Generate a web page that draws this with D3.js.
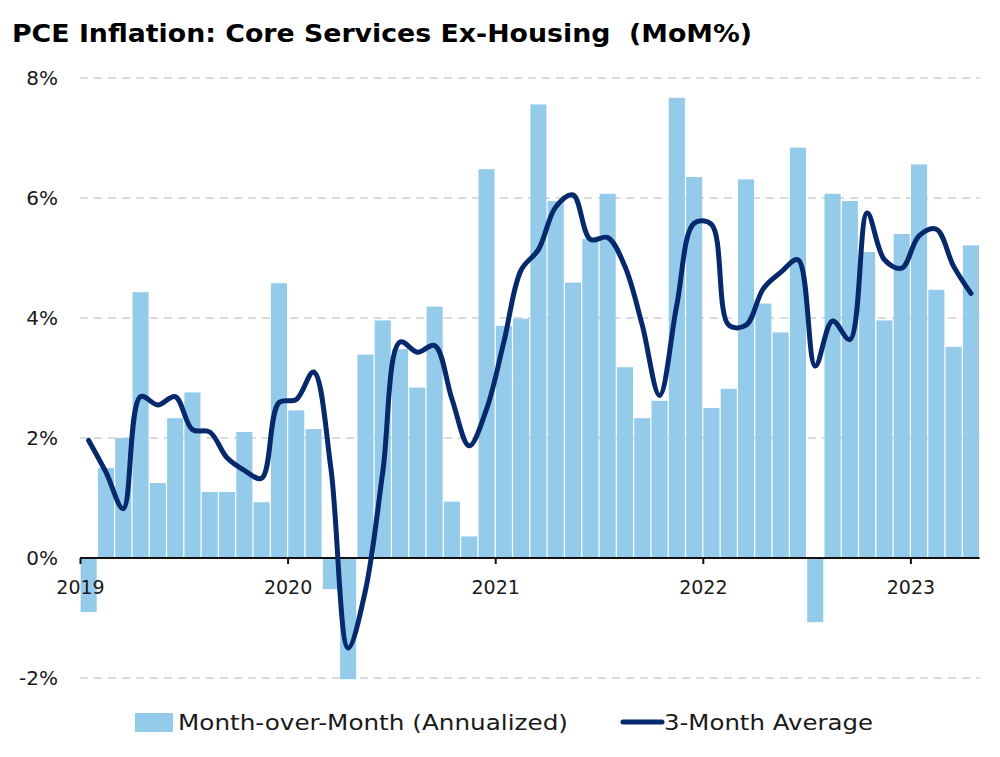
<!DOCTYPE html>
<html>
<head>
<meta charset="utf-8">
<script src="https://cdn.jsdelivr.net/npm/d3@7"></script>
<style>
  body { margin: 0; background: #fff; }
  text { font-family: "DejaVu Sans", sans-serif; fill: #1a1a1a; }
</style>
</head>
<body>
<svg id="chart"></svg>
<script>
var svgWidth = 1000;
var svgHeight = 757;

// data, Jan 2019 .. Apr 2023
var years = ["2019", "2020", "2021", "2022", "2023"];
var momValues = [
  -0.9, 1.5, 2.0, 4.43, 1.25, 2.33, 2.76, 1.1, 1.1, 2.1, 0.93, 4.58,
  2.46, 2.15, -0.52, -2.02, 3.39, 3.96, 3.48, 2.84, 4.19, 0.94, 0.36, 6.48,
  3.87, 3.99, 7.56, 5.95, 4.59, 5.32, 6.07, 3.18, 2.33, 2.62, 7.67, 6.35,
  2.5, 2.82, 6.31, 4.24, 3.76, 6.84, -1.07, 6.07, 5.95, 5.1, 3.96, 5.4,
  6.56, 4.47, 3.52, 5.21
];
var avgValues = [
  1.96, 1.43, 0.82, 2.69, 2.55, 2.69, 2.14, 2.1, 1.67, 1.46, 1.33, 2.59,
  2.64, 3.1, 1.5, -1.5, -0.54, 1.43, 3.6, 3.43, 3.54, 2.65, 1.87, 2.48,
  3.6, 4.8, 5.14, 5.85, 6.05, 5.31, 5.34, 4.86, 3.88, 2.71, 4.22, 5.58,
  5.56, 3.88, 3.88, 4.49, 4.76, 4.97, 3.2, 3.95, 3.64, 5.75, 4.97, 4.83,
  5.37, 5.48, 4.86, 4.41
];
var yTicks = [-2, 0, 2, 4, 6, 8];
var seriesNames = ["Month-over-Month (Annualized)", "3-Month Average"];

var barColor = "#95cbea";
var lineColor = "#05296b";

var plotLeft = 80, plotRight = 979.6, plotTop = 78, plotBottom = 678;

var svg = d3.select("#chart")
    .attr("width", svgWidth)
    .attr("height", svgHeight);

var xBand = d3.scaleBand()
    .domain(d3.range(momValues.length))
    .range([plotLeft, plotRight])
    .paddingInner(0.07)
    .paddingOuter(0.035);

var xLin = d3.scaleLinear()
    .domain([0, momValues.length])
    .range([plotLeft, plotRight]);

var y = d3.scaleLinear()
    .domain([-2, 8])
    .range([plotBottom, plotTop]);

// gridlines
svg.append("g")
    .selectAll("line")
    .data(yTicks.filter(function(d) { return d !== 0; }))
    .enter()
    .append("line")
    .attr("x1", plotLeft)
    .attr("x2", plotRight)
    .attr("y1", function(d) { return y(d); })
    .attr("y2", function(d) { return y(d); })
    .style("stroke", "#cfcfcf")
    .style("stroke-width", 1.5)
    .style("stroke-dasharray", "8,6");

// y labels
svg.append("g")
    .selectAll("text")
    .data(yTicks)
    .enter()
    .append("text")
    .attr("x", 58)
    .attr("y", function(d) { return y(d); })
    .attr("dy", "0.35em")
    .attr("text-anchor", "end")
    .style("font-size", "20px")
    .text(function(d) { return d + "%"; });

// bars
svg.append("g")
    .selectAll("rect")
    .data(momValues)
    .enter()
    .append("rect")
    .attr("x", function(d, i) { return xBand(i); })
    .attr("width", xBand.bandwidth())
    .attr("y", function(d) { return y(Math.max(0, d)); })
    .attr("height", function(d) { return Math.abs(y(d) - y(0)); })
    .style("fill", barColor);

// x axis
var xAxis = d3.axisBottom(xLin)
    .tickValues([0, 12, 24, 36, 48])
    .tickSize(6)
    .tickFormat(function(d) { return years[d / 12]; });

var axisG = svg.append("g")
    .attr("transform", "translate(0," + y(0) + ")")
    .call(xAxis);
axisG.select(".domain")
    .attr("d", "M" + plotLeft + ",0H" + plotRight)
    .style("stroke", "#111")
    .style("stroke-width", 2);
axisG.selectAll(".tick line").style("stroke", "#111").style("stroke-width", 2);
axisG.selectAll(".tick text")
    .attr("y", 23)
    .style("font-size", "19px")
    .style("font-family", "'DejaVu Sans', sans-serif")
    .style("fill", "#1a1a1a");

// 3-month average line
var line = d3.line()
    .x(function(d, i) { return xBand(i) + xBand.bandwidth() / 2; })
    .y(function(d) { return y(d); })
    .curve(d3.curveCatmullRom.alpha(0.5));

svg.append("path")
    .datum(avgValues)
    .attr("d", line)
    .style("fill", "none")
    .style("stroke", lineColor)
    .style("stroke-width", 5)
    .style("stroke-linejoin", "round")
    .style("stroke-linecap", "round");

// title
svg.append("text")
    .attr("x", 12)
    .attr("y", 42)
    .attr("xml:space", "preserve")
    .attr("textLength", 740)
    .attr("lengthAdjust", "spacingAndGlyphs")
    .style("font-size", "24px")
    .style("font-weight", "700")
    .style("fill", "#000")
    .text("PCE Inflation: Core Services Ex-Housing  (MoM%)");

// legend
var legend = svg.append("g").attr("class", "legend");
legend.append("rect")
    .attr("x", 135)
    .attr("y", 713)
    .attr("width", 38)
    .attr("height", 19)
    .style("fill", barColor);
legend.append("text")
    .attr("x", 178)
    .attr("y", 730)
    .attr("textLength", 390)
    .attr("lengthAdjust", "spacingAndGlyphs")
    .style("font-size", "21px")
    .text(seriesNames[0]);
legend.append("line")
    .attr("x1", 623)
    .attr("x2", 662)
    .attr("y1", 722)
    .attr("y2", 722)
    .style("stroke", lineColor)
    .style("stroke-width", 5)
    .style("stroke-linecap", "round");
legend.append("text")
    .attr("x", 664)
    .attr("y", 730)
    .attr("textLength", 209)
    .attr("lengthAdjust", "spacingAndGlyphs")
    .style("font-size", "21px")
    .text(seriesNames[1]);
</script>
</body>
</html>
